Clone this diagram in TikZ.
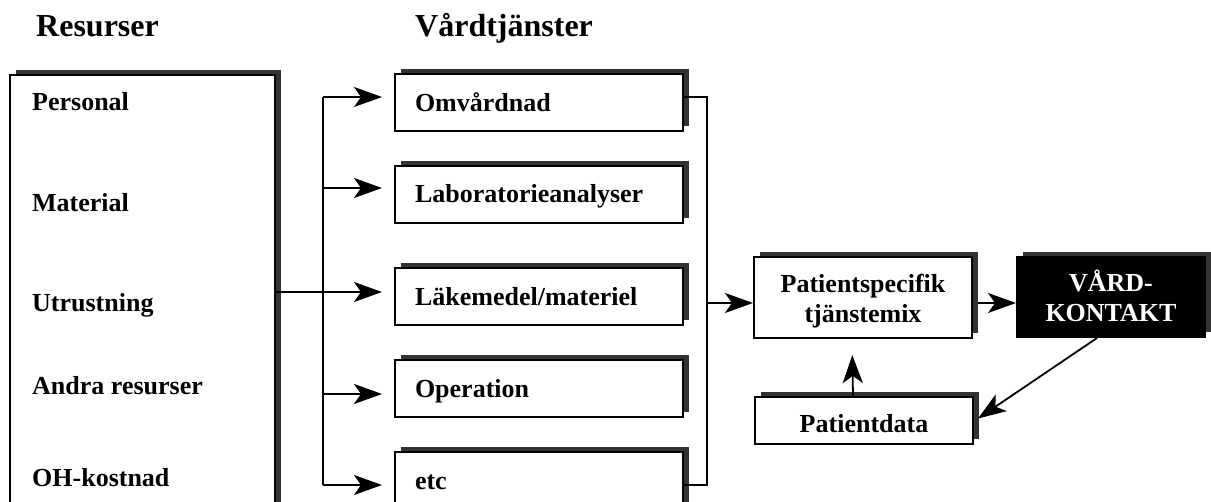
\documentclass[tikz,border=0pt]{standalone}
\usepackage{fontspec}
\setmainfont{Liberation Serif}
\usetikzlibrary{arrows.meta,shadows}
\begin{document}
\begin{tikzpicture}[x=1pt,y=-1pt,
  font=\bfseries\fontsize{26}{30}\selectfont,
  sbox/.style={draw=black, line width=2pt, fill=white,
    general shadow={fill=black!80, shadow xshift=6pt, shadow yshift=5pt},
    inner sep=0pt},
  svc/.style={sbox, minimum height=57pt, text width=248pt, inner xsep=20pt,
    align=left, text height=17pt, text depth=0pt},
  two/.style={sbox, align=center, text height=60pt, text depth=10pt},
  conn/.style={line width=1.8pt},
  arr/.style={conn, -{Stealth[length=28pt,width=20pt,inset=7pt]}},
  lbl/.style={anchor=base west, inner sep=0pt},
  ttl/.style={anchor=base west, inner sep=0pt, font=\bfseries\fontsize{32}{36}\selectfont},
]
\clip (0,0) rectangle (1211,502);
\fill[white] (0,0) rectangle (1211,502);

% titles
\node[ttl] (t1) at (36,37) {Resurser};
\node[ttl] (t2) at (415,37) {Vårdtjänster};

% resources box
\node[sbox, minimum width=265pt, minimum height=500pt] (res) at (142.5,325) {};
\node[lbl] (r1) at (32,111) {Personal};
\node[lbl] (r2) at (32,212) {Material};
\node[lbl] (r3) at (32,312) {Utrustning};
\node[lbl] (r4) at (32,395) {Andra resurser};
\node[lbl] (r5) at (32,487) {OH-kostnad};

% service boxes
\node[svc] (omv) at (539,103) {Omvårdnad};
\node[svc] (lab) at (539,194.5) {Laboratorieanalyser};
\node[svc] (lak) at (539,297) {Läkemedel/materiel};
\node[svc] (op)  at (539,389) {Operation};
\node[svc] (etc) at (539,481) {etc};

% right side
\node[two, minimum width=218pt, minimum height=81pt] (ps) at (863,297.5) {Patientspecifik\\tjänstemix};
\node[two, minimum width=188pt, minimum height=80pt, fill=black, text=white] (vk) at (1111,297) {VÅRD-\\KONTAKT};
\node[sbox, minimum width=218pt, minimum height=47pt, text height=24pt, text depth=0pt] (pd) at (864,420.5) {Patientdata};

% spine coordinates
\coordinate (s1) at (323,97);
\coordinate (s2) at (323,188);
\coordinate (s3) at (323,292);
\coordinate (s4) at (323,394);
\coordinate (s5) at (323,485);
\coordinate (c1) at (707,97);
\coordinate (c3) at (707,303);
\coordinate (c5) at (707,485);

% left spine
\draw[conn] (s1) -- (s5);
\draw[arr, shorten >=12pt] (s1) -- (s1 -| omv.west);
\draw[arr, shorten >=12pt] (s2) -- (s2 -| lab.west);
\draw[arr, shorten >=12pt] (res.east |- s3) -- (s3 -| lak.west);
\draw[arr, shorten >=12pt] (s4) -- (s4 -| op.west);
\draw[arr, shorten >=12pt] (s5) -- (s5 -| etc.west);

% right collector
\draw[conn] (omv.east |- c1) -- (c1) -- (c5) -- (etc.east |- c5);
\draw[arr] (c3) -- (c3 -| ps.west);
\draw[arr] ([xshift=5pt]ps.east |- c3) -- (c3 -| vk.west);
\draw[arr, shorten >=16pt] ([xshift=-11pt]pd.north) -- ([xshift=-11pt]ps.south);
\draw[arr] ([xshift=-14pt]vk.south) -- ([xshift=4pt,yshift=2pt]pd.east);
\end{tikzpicture}
\end{document}
